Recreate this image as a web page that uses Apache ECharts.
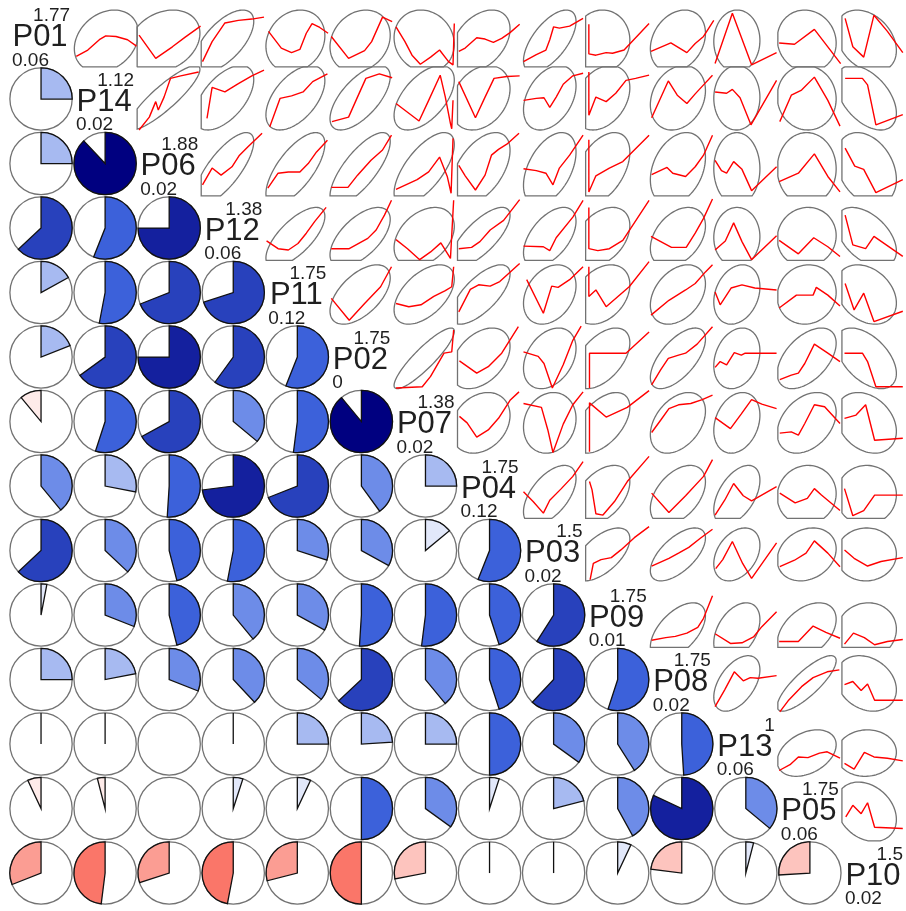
<!DOCTYPE html>
<html>
<head>
<meta charset="utf-8">
<script src="https://cdn.jsdelivr.net/npm/echarts@6/dist/echarts.min.js"></script>
<style>
html,body{margin:0;padding:0;background:#fff;}
#chart{width:906px;height:911px;}
</style>
</head>
<body>
<div id="chart"></div>
<script>
// ---- data ----
const varNames = ['P01','P14','P06','P12','P11','P02','P07','P04','P03','P09','P08','P13','P05','P10'];
const minLabels = ['0.06','0.02','0.02','0.06','0.12','0','0.02','0.12','0.02','0.01','0.02','0.06','0.06','0.02'];
const maxLabels = ['1.77','1.12','1.88','1.38','1.75','1.75','1.38','1.75','1.5','1.75','1.75','1','1.75','1.5'];

// lower triangle correlations, row i has columns 0..i-1
const corrLower = [
  [],
  [0.25],
  [0.25, 0.88],
  [0.63, 0.56, 0.75],
  [0.17, 0.53, 0.69, 0.70],
  [0.19, 0.65, 0.75, 0.60, 0.56],
  [-0.11, 0.55, 0.67, 0.36, 0.52, 0.89],
  [0.39, 0.28, 0.51, 0.73, 0.69, 0.40, 0.25],
  [0.63, 0.37, 0.46, 0.53, 0.30, 0.33, 0.14, 0.56],
  [0.03, 0.31, 0.46, 0.39, 0.33, 0.51, 0.52, 0.45, 0.59],
  [0.25, 0.22, 0.31, 0.38, 0.36, 0.63, 0.39, 0.45, 0.62, 0.55],
  [0.015, 0.015, 0.00, 0.015, 0.25, 0.24, 0.25, 0.50, 0.35, 0.41, 0.49],
  [-0.07, -0.04, 0.00, 0.05, 0.07, 0.50, 0.35, 0.05, 0.21, 0.42, 0.82, 0.36],
  [-0.31, -0.48, -0.30, -0.47, -0.29, -0.50, -0.28, 0.015, 0.015, 0.07, -0.23, 0.04, -0.26]
];

// per-variable ellipse centre and half-extent (fraction of panel), read from the ellipses
const ellipseMid  = [0.40, 0.52, 0.42, 0.36, 0.47, 0.48, 0.48, 0.36, 0.44, 0.25, 0.44, 0.36, 0.45, 0.38];
const ellipseHalf = [0.48, 0.50, 0.56, 0.46, 0.46, 0.47, 0.47, 0.46, 0.41, 0.44, 0.43, 0.36, 0.46, 0.47];

// smooth (red) lines of the upper panels, row i holds columns i+1..13; points [u, v] in panel fraction
const smoothRow0 = [
  [[0.05,0.16],[0.23,0.26],[0.41,0.42],[0.51,0.48],[0.67,0.47],[0.85,0.42],[0.99,0.32]],
  [[0.03,0.49],[0.29,0.13],[0.55,0.31],[0.75,0.46],[0.99,0.63]],
  [[0.02,0.08],[0.17,0.39],[0.37,0.68],[0.58,0.72],[0.79,0.74],[0.98,0.77]],
  [[0.05,0.55],[0.25,0.29],[0.41,0.22],[0.54,0.27],[0.64,0.52],[0.73,0.67],[0.85,0.61],[0.98,0.52]],
  [[0.03,0.47],[0.30,0.13],[0.55,0.25],[0.66,0.39],[0.83,0.77],[0.98,0.70]],
  [[0.04,0.62],[0.18,0.39],[0.29,0.18],[0.42,0.04],[0.58,0.15],[0.72,0.26],[0.86,0.08],[0.93,0.03],[0.95,0.67]],
  [[0.02,0.24],[0.12,0.29],[0.30,0.45],[0.43,0.43],[0.56,0.38],[0.69,0.44],[0.82,0.53],[0.97,0.66]],
  [[0.03,0.08],[0.23,0.19],[0.38,0.26],[0.44,0.42],[0.50,0.62],[0.59,0.60],[0.75,0.63],[0.96,0.75]],
  [[0.05,0.66],[0.05,0.20],[0.16,0.18],[0.32,0.22],[0.42,0.21],[0.60,0.26],[0.99,0.67]],
  [[0.02,0.24],[0.33,0.37],[0.58,0.22],[0.71,0.36],[0.84,0.47],[1.00,0.72]],
  [[0.02,0.05],[0.29,0.83],[0.59,0.03],[0.98,0.22]],
  [[0.02,0.37],[0.26,0.35],[0.57,0.58],[0.78,0.31],[0.98,0.05]],
  [[0.05,0.75],[0.17,0.31],[0.34,0.15],[0.50,0.80],[0.71,0.55],[0.95,0.22]]
];
const smoothRow1 = [
  [[0.03,0.02],[0.19,0.22],[0.29,0.46],[0.33,0.33],[0.42,0.53],[0.52,0.82],[0.68,0.86],[0.96,0.92]],
  [[0.09,0.20],[0.17,0.68],[0.37,0.61],[0.58,0.74],[0.79,0.86],[0.98,0.95]],
  [[0.07,0.07],[0.23,0.51],[0.41,0.55],[0.59,0.61],[0.74,0.77],[0.97,0.89]],
  [[0.04,0.15],[0.30,0.22],[0.43,0.51],[0.57,0.82],[0.78,0.89],[0.98,0.83]],
  [[0.04,0.43],[0.40,0.16],[0.55,0.48],[0.73,0.87],[0.81,0.53],[0.89,0.12],[0.91,0.04],[0.93,0.48]],
  [[0.02,0.77],[0.28,0.21],[0.43,0.53],[0.57,0.82],[0.77,0.85],[0.97,0.86]],
  [[0.03,0.48],[0.23,0.51],[0.35,0.52],[0.44,0.37],[0.54,0.53],[0.65,0.73],[0.80,0.86],[0.96,0.90]],
  [[0.05,0.92],[0.05,0.25],[0.16,0.53],[0.32,0.46],[0.47,0.59],[0.63,0.79],[0.78,0.82],[0.99,0.87]],
  [[0.03,0.21],[0.29,0.78],[0.43,0.56],[0.58,0.43],[0.71,0.58],[0.84,0.72],[0.98,0.87]],
  [[0.02,0.61],[0.20,0.59],[0.29,0.65],[0.41,0.52],[0.58,0.10],[0.98,0.79]],
  [[0.03,0.15],[0.21,0.56],[0.37,0.64],[0.57,0.84],[0.78,0.48],[0.97,0.08]],
  [[0.05,0.82],[0.32,0.82],[0.40,0.72],[0.53,0.10],[0.95,0.26]]
];
const smoothRow2 = [
  [[0.02,0.17],[0.17,0.43],[0.31,0.32],[0.48,0.45],[0.59,0.62],[0.73,0.76],[0.95,0.97]],
  [[0.04,0.12],[0.20,0.35],[0.36,0.37],[0.54,0.37],[0.67,0.50],[0.80,0.68],[0.97,0.86]],
  [[0.03,0.13],[0.29,0.13],[0.44,0.32],[0.65,0.55],[0.83,0.71],[0.97,0.94]],
  [[0.04,0.10],[0.37,0.25],[0.55,0.37],[0.72,0.60],[0.84,0.30],[0.90,0.04],[0.93,0.89]],
  [[0.02,0.47],[0.12,0.31],[0.28,0.09],[0.43,0.32],[0.53,0.63],[0.64,0.72],[0.77,0.80],[0.96,0.97]],
  [[0.03,0.42],[0.23,0.39],[0.38,0.35],[0.49,0.17],[0.59,0.43],[0.75,0.63],[0.96,0.94]],
  [[0.05,0.87],[0.05,0.06],[0.16,0.31],[0.37,0.43],[0.58,0.53],[0.99,0.94]],
  [[0.03,0.33],[0.27,0.44],[0.36,0.35],[0.56,0.30],[0.71,0.45],[0.84,0.63],[0.98,0.94]],
  [[0.02,0.55],[0.12,0.39],[0.20,0.35],[0.31,0.53],[0.44,0.41],[0.59,0.08],[0.98,0.45]],
  [[0.02,0.22],[0.32,0.35],[0.57,0.65],[0.78,0.30],[0.97,0.06]],
  [[0.05,0.74],[0.20,0.46],[0.34,0.41],[0.53,0.05],[0.95,0.25]]
];
const smoothRow3 = [
  [[0.02,0.30],[0.20,0.18],[0.36,0.16],[0.51,0.26],[0.64,0.42],[0.77,0.60],[0.95,0.82]],
  [[0.03,0.18],[0.31,0.18],[0.60,0.34],[0.73,0.47],[0.86,0.70],[0.97,0.93]],
  [[0.04,0.32],[0.22,0.18],[0.41,0.01],[0.58,0.13],[0.74,0.27],[0.89,0.03],[0.94,0.93]],
  [[0.02,0.18],[0.22,0.20],[0.35,0.29],[0.51,0.47],[0.72,0.62],[0.97,0.94]],
  [[0.03,0.22],[0.34,0.21],[0.44,0.15],[0.54,0.35],[0.80,0.67],[0.96,0.93]],
  [[0.05,0.82],[0.05,0.18],[0.19,0.15],[0.37,0.18],[0.58,0.31],[0.99,0.93]],
  [[0.02,0.37],[0.34,0.20],[0.57,0.20],[0.71,0.42],[0.84,0.65],[0.98,0.95]],
  [[0.02,0.16],[0.18,0.30],[0.31,0.58],[0.44,0.29],[0.59,0.01],[0.98,0.38]],
  [[0.02,0.31],[0.32,0.10],[0.56,0.35],[0.78,0.21],[0.97,0.06]],
  [[0.05,0.70],[0.17,0.24],[0.37,0.18],[0.50,0.37],[0.95,0.06]]
];
const smoothRow4 = [
  [[0.03,0.41],[0.31,0.07],[0.55,0.33],[0.80,0.59],[0.97,0.90]],
  [[0.04,0.33],[0.24,0.28],[0.43,0.31],[0.63,0.44],[0.81,0.53],[0.91,0.59],[0.94,0.90]],
  [[0.02,0.20],[0.20,0.55],[0.33,0.62],[0.51,0.60],[0.66,0.67],[0.97,0.95]],
  [[0.08,0.70],[0.34,0.18],[0.47,0.60],[0.57,0.58],[0.75,0.70],[0.96,0.90]],
  [[0.05,0.90],[0.05,0.44],[0.16,0.54],[0.32,0.28],[0.68,0.59],[0.99,0.98]],
  [[0.02,0.15],[0.30,0.38],[0.56,0.54],[0.71,0.64],[0.87,0.82],[0.98,0.93]],
  [[0.02,0.51],[0.10,0.31],[0.27,0.57],[0.44,0.62],[0.64,0.57],[0.98,0.54]],
  [[0.02,0.26],[0.29,0.46],[0.55,0.46],[0.60,0.58],[0.78,0.46],[0.97,0.29]],
  [[0.05,0.64],[0.19,0.23],[0.34,0.49],[0.50,0.05],[0.95,0.21]]
];
const smoothRow5 = [
  [[0.04,0.02],[0.45,0.04],[0.58,0.20],[0.79,0.56],[0.91,0.58],[0.94,0.92]],
  [[0.03,0.44],[0.30,0.25],[0.48,0.35],[0.69,0.56],[0.95,0.97]],
  [[0.03,0.58],[0.26,0.51],[0.35,0.40],[0.48,0.02],[0.65,0.38],[0.80,0.76],[0.93,0.98]],
  [[0.06,0.02],[0.06,0.56],[0.63,0.56],[0.99,0.89]],
  [[0.03,0.07],[0.17,0.30],[0.29,0.48],[0.45,0.53],[0.56,0.56],[0.74,0.70],[0.98,0.97]],
  [[0.02,0.34],[0.10,0.43],[0.20,0.38],[0.32,0.57],[0.43,0.53],[0.49,0.56],[0.98,0.56]],
  [[0.03,0.15],[0.21,0.22],[0.32,0.25],[0.42,0.40],[0.57,0.70],[0.78,0.56],[0.97,0.43]],
  [[0.04,0.56],[0.32,0.56],[0.40,0.43],[0.53,0.04],[0.95,0.04]]
];
const smoothRow6 = [
  [[0.03,0.58],[0.15,0.48],[0.30,0.26],[0.48,0.37],[0.64,0.55],[0.82,0.83],[0.96,0.96]],
  [[0.03,0.78],[0.31,0.72],[0.41,0.37],[0.49,0.02],[0.65,0.46],[0.80,0.76],[0.96,0.96]],
  [[0.06,0.03],[0.06,0.79],[0.32,0.57],[0.65,0.72],[0.99,0.98]],
  [[0.03,0.33],[0.17,0.52],[0.30,0.70],[0.45,0.76],[0.64,0.78],[0.82,0.84],[0.98,0.91]],
  [[0.02,0.56],[0.26,0.39],[0.43,0.62],[0.59,0.84],[0.75,0.77],[0.98,0.70]],
  [[0.03,0.32],[0.21,0.34],[0.32,0.29],[0.42,0.47],[0.57,0.76],[0.73,0.73],[0.97,0.47]],
  [[0.04,0.55],[0.22,0.60],[0.37,0.76],[0.51,0.21],[0.95,0.24]]
];
const smoothRow7 = [
  [[0.03,0.41],[0.18,0.26],[0.34,0.08],[0.44,0.28],[0.62,0.46],[0.80,0.65],[0.96,0.88]],
  [[0.06,0.57],[0.10,0.44],[0.16,0.07],[0.27,0.05],[0.45,0.26],[0.65,0.57],[0.99,0.96]],
  [[0.03,0.39],[0.30,0.09],[0.56,0.35],[0.84,0.65],[0.98,0.91]],
  [[0.02,0.05],[0.17,0.28],[0.31,0.54],[0.46,0.35],[0.59,0.27],[0.98,0.49]],
  [[0.03,0.39],[0.27,0.24],[0.46,0.31],[0.57,0.46],[0.68,0.36],[0.97,0.12]],
  [[0.04,0.46],[0.17,0.04],[0.34,0.12],[0.51,0.36],[0.95,0.36]]
];
const smoothRow8 = [
  [[0.07,0.05],[0.12,0.30],[0.24,0.36],[0.40,0.39],[0.55,0.51],[0.76,0.70],[0.99,0.87]],
  [[0.03,0.26],[0.30,0.38],[0.45,0.46],[0.61,0.55],[0.79,0.69],[0.98,0.83]],
  [[0.03,0.22],[0.14,0.36],[0.29,0.64],[0.45,0.30],[0.59,0.07],[0.98,0.62]],
  [[0.03,0.25],[0.26,0.35],[0.44,0.46],[0.57,0.65],[0.78,0.46],[0.97,0.25]],
  [[0.04,0.51],[0.19,0.38],[0.40,0.26],[0.61,0.33],[0.95,0.39]]
];
const smoothRow9 = [
  [[0.03,0.11],[0.25,0.15],[0.40,0.17],[0.58,0.22],[0.75,0.31],[0.84,0.45],[0.98,0.80]],
  [[0.02,0.21],[0.26,0.06],[0.44,0.07],[0.62,0.16],[0.75,0.32],[0.98,0.55]],
  [[0.02,0.09],[0.32,0.09],[0.55,0.33],[0.75,0.23],[0.97,0.14]],
  [[0.04,0.05],[0.18,0.22],[0.35,0.15],[0.51,0.04],[0.71,0.09],[0.95,0.12]]
];
const smoothRow10 = [
  [[0.02,0.08],[0.17,0.34],[0.32,0.62],[0.46,0.48],[0.57,0.53],[0.69,0.52],[0.98,0.56]],
  [[0.03,0.00],[0.16,0.17],[0.37,0.39],[0.55,0.53],[0.77,0.62],[0.96,0.65]],
  [[0.04,0.42],[0.17,0.47],[0.30,0.33],[0.40,0.43],[0.51,0.18],[0.95,0.18]]
];
const smoothRow11 = [
  [[0.02,0.09],[0.19,0.18],[0.32,0.30],[0.47,0.29],[0.65,0.36],[0.77,0.38],[0.97,0.28]],
  [[0.04,0.20],[0.19,0.11],[0.35,0.37],[0.50,0.30],[0.71,0.28],[0.95,0.24]]
];
const smoothRow12 = [
  [[0.06,0.37],[0.17,0.55],[0.30,0.42],[0.40,0.59],[0.51,0.21],[0.95,0.19]]
];
const smoothRows = [smoothRow0, smoothRow1, smoothRow2, smoothRow3, smoothRow4, smoothRow5,
  smoothRow6, smoothRow7, smoothRow8, smoothRow9, smoothRow10, smoothRow11, smoothRow12];

// ---- styling helpers ----
const N = varNames.length;
const rampStops = [[255,0,0],[250,128,114],[255,255,255],[65,105,225],[0,0,128]];
const palette = [];
for (let i = 0; i < 14; i++) {
  const t = i / 13 * 4;
  const s = Math.min(3, Math.floor(t));
  const f = t - s;
  const a = rampStops[s], b = rampStops[s + 1];
  palette.push('rgb(' + [0,1,2].map(k => Math.round(a[k] + (b[k] - a[k]) * f)).join(',') + ')');
}
function corrColor(r) {
  let idx = Math.floor((r + 1) / (2 / 14));
  if (idx > 13) idx = 13;
  if (idx < 0) idx = 0;
  return palette[idx];
}

const FONT = '"Liberation Sans", Arial, Helvetica, sans-serif';
const TEXT_COLOR = '#1f1f1f';
const OUTLINE = '#727272';

// pies
const pieData = [];
for (let i = 1; i < N; i++) for (let j = 0; j < i; j++) pieData.push([j, i, corrLower[i][j]]);
// ellipses (upper panels, x = column variable, y = row variable)
const ellData = [];
for (let i = 0; i < N; i++) for (let j = i + 1; j < N; j++) ellData.push([j, i, corrLower[j][i]]);
const diagData = varNames.map((n, k) => [k, k]);

function renderPie(params, api) {
  const col = api.value(0), row = api.value(1), r = api.value(2);
  const c = api.coord([col + 0.5, row + 0.5]);
  const R = api.size([1, 1])[0] * 0.486;
  const children = [{
    type: 'circle', shape: { cx: c[0], cy: c[1], r: R },
    style: { fill: 'none', stroke: OUTLINE, lineWidth: 1.3 }
  }];
  const seg = Math.round(60 * Math.abs(r));
  if (seg === 1) {
    children.push({ type: 'line', shape: { x1: c[0], y1: c[1], x2: c[0], y2: c[1] - R },
      style: { stroke: '#111', lineWidth: 1.3 } });
  } else if (seg > 1) {
    const start = -Math.PI / 2;
    const end = start + 2 * Math.PI * r;
    children.push({
      type: 'sector',
      shape: { cx: c[0], cy: c[1], r0: 0, r: R, startAngle: Math.min(start, end), endAngle: Math.max(start, end), clockwise: true },
      style: { fill: corrColor(r), stroke: '#111', lineWidth: 1.3 }
    });
  }
  return { type: 'group', children: children };
}

function clipPoly(pts) {
  const edges = [
    [p => p[0] >= 0, (a, b) => { const t = (0 - a[0]) / (b[0] - a[0]); return [0, a[1] + t * (b[1] - a[1])]; }],
    [p => p[0] <= 1, (a, b) => { const t = (1 - a[0]) / (b[0] - a[0]); return [1, a[1] + t * (b[1] - a[1])]; }],
    [p => p[1] >= 0, (a, b) => { const t = (0 - a[1]) / (b[1] - a[1]); return [a[0] + t * (b[0] - a[0]), 0]; }],
    [p => p[1] <= 1, (a, b) => { const t = (1 - a[1]) / (b[1] - a[1]); return [a[0] + t * (b[0] - a[0]), 1]; }]
  ];
  let out = pts;
  for (const [inside, inter] of edges) {
    const input = out; out = [];
    for (let k = 0; k < input.length; k++) {
      const cur = input[k], prev = input[(k + input.length - 1) % input.length];
      if (inside(cur)) {
        if (!inside(prev)) out.push(inter(prev, cur));
        out.push(cur);
      } else if (inside(prev)) {
        out.push(inter(prev, cur));
      }
    }
    if (!out.length) break;
  }
  return out;
}

function renderEllipse(params, api) {
  const col = api.value(0), row = api.value(1), r = api.value(2);
  const mx = ellipseMid[col], hx = ellipseHalf[col];
  const my = ellipseMid[row], hy = ellipseHalf[row];
  const d = Math.acos(Math.max(-1, Math.min(1, r)));
  const pts = [];
  for (let k = 0; k < 100; k++) {
    const a = 2 * Math.PI * k / 100;
    pts.push([mx + hx * Math.cos(a + d / 2), my + hy * Math.cos(a - d / 2)]);
  }
  const clipped = clipPoly(pts);
  const pix = clipped.map(p => api.coord([col + p[0], row + 1 - p[1]]));
  return { type: 'polygon', shape: { points: pix }, style: { fill: 'none', stroke: OUTLINE, lineWidth: 1.3 } };
}

function renderDiag(params, api) {
  const k = api.value(0);
  const tl = api.coord([k, k]);
  const br = api.coord([k + 1, k + 1]);
  const cx = (tl[0] + br[0]) / 2, cy = (tl[1] + br[1]) / 2;
  return {
    type: 'group',
    children: [
      { type: 'text', style: { text: varNames[k], x: cx - 1, y: cy + 3, align: 'center', verticalAlign: 'middle',
          font: '31px ' + FONT, fill: TEXT_COLOR } },
      { type: 'text', style: { text: maxLabels[k], x: br[0] - 3, y: tl[1] + 4, align: 'right', verticalAlign: 'top',
          font: '19px ' + FONT, fill: TEXT_COLOR } },
      { type: 'text', style: { text: minLabels[k], x: tl[0] + 3, y: br[1] + 3, align: 'left', verticalAlign: 'bottom',
          font: '19px ' + FONT, fill: TEXT_COLOR } }
    ]
  };
}

const series = [
  { type: 'custom', renderItem: renderPie, data: pieData, z: 2, silent: true },
  { type: 'custom', renderItem: renderEllipse, data: ellData, z: 2, silent: true },
  { type: 'custom', renderItem: renderDiag, data: diagData, z: 5, silent: true }
];
for (let i = 0; i < smoothRows.length; i++) {
  smoothRows[i].forEach((pts, m) => {
    const j = i + 1 + m;
    series.push({
      type: 'line', silent: true, z: 3, symbol: 'none', smooth: false, clip: false,
      lineStyle: { color: '#ff0000', width: 1.4 },
      data: pts.map(p => [j + p[0], i + 1 - p[1]])
    });
  });
}

const chart = echarts.init(document.getElementById('chart'), null, { renderer: 'canvas' });
chart.setOption({
  animation: false,
  backgroundColor: '#ffffff',
  grid: { left: 9, top: 2.3, width: 903, height: 903, containLabel: false },
  xAxis: { type: 'value', min: 0, max: 14, show: false },
  yAxis: { type: 'value', min: 0, max: 14, inverse: true, show: false },
  series: series
});
</script>
</body>
</html>
